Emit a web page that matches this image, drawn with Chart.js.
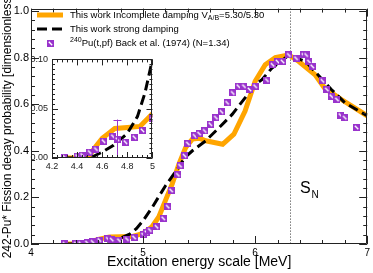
<!DOCTYPE html>
<html><head><meta charset="utf-8">
<script src="https://cdn.jsdelivr.net/npm/chart.js@4.4.0/dist/chart.umd.min.js"></script>
<style>
html,body{margin:0;padding:0;background:#fff;}
#wrap{position:relative;width:373px;height:273px;overflow:hidden;}
#main{position:absolute;left:0;top:0;}
#inset{position:absolute;left:24px;top:50px;}
</style></head><body>
<div id="wrap"><canvas id="main" width="373" height="273"></canvas><canvas id="inset" width="134" height="124"></canvas></div>
<script>
// ---- data ----
const backE = [4.30,4.40,4.44,4.50,4.55,4.61,4.685,4.72,4.785,4.856,4.92,5.00,5.03,5.06,5.12,5.18,5.22,5.25,5.31,5.33,5.37,5.40,5.46,5.50,5.55,5.60,5.65,5.70,5.75,5.80,5.85,5.90,5.95,6.00,6.105,6.155,6.20,6.245,6.30,6.365,6.43,6.455,6.48,6.51,6.60,6.64,6.68,6.73,6.76,6.80,6.905];
const backP = [0.001,0.002,0.003,0.006,0.009,0.017,0.022,0.019,0.016,0.021,0.028,0.040,0.050,0.060,0.074,0.110,0.160,0.230,0.297,0.336,0.379,0.431,0.464,0.474,0.485,0.514,0.542,0.567,0.606,0.648,0.677,0.677,0.663,0.677,0.703,0.769,0.783,0.783,0.811,0.797,0.811,0.811,0.783,0.762,0.700,0.663,0.634,0.620,0.553,0.542,0.500];
const incE = [4.28,4.40,4.50,4.55,4.60,4.65,4.70,4.80,4.90,5.00,5.08,5.14,5.20,5.26,5.32,5.38,5.44,5.50,5.56,5.71,5.81,5.91,6.00,6.09,6.18,6.30,6.39,6.535,6.62,6.77,7.00];
const incP = [0.000,0.000,0.003,0.012,0.020,0.025,0.030,0.031,0.032,0.045,0.074,0.116,0.187,0.258,0.343,0.414,0.450,0.454,0.443,0.428,0.471,0.570,0.698,0.769,0.800,0.811,0.783,0.726,0.669,0.620,0.550];
const strongE = [4.28,4.50,4.60,4.69,4.80,4.88,4.94,5.00,5.085,5.20,5.32,5.37,5.44,5.56,5.68,5.795,5.91,6.00,6.06,6.15,6.30,6.45,6.56,6.68,6.80,7.00];
const strongP = [0.000,0.000,0.006,0.013,0.025,0.042,0.066,0.100,0.160,0.250,0.330,0.370,0.400,0.443,0.500,0.556,0.627,0.684,0.705,0.755,0.810,0.783,0.726,0.663,0.606,0.550];
const errE = [4.72];
const errLow = [0.0];
const errHigh = [0.039];
const snEnergy = 6.31;
const mainXTicks = [4,5,6,7];
const mainXLabels = ['4','5','6','7'];
const mainYTicks = [0,0.2,0.4,0.6,0.8,1.0];
const mainYLabels = ['0.0','0.2','0.4','0.6','0.8','1.0'];
const insetXTicks = [4.2,4.4,4.6,4.8,5.0];
const insetXLabels = ['4.2','4.4','4.6','4.8','5'];
const insetYTicks = [0,0.05,0.10];
const insetYLabels = ['0.00','0.05','0.10'];
const legendLabels = ['This work Incomplete damping V', 'This work strong damping', 'Pu(t,pf) Back et al. (1974) (N=1.34)'];

// ---- style ----
const FONT = "'Liberation Sans', Arial, Helvetica, sans-serif";
const PURPLE = '#9933CC';
const ORANGE = '#FFA500';
Chart.defaults.font.family = FONT;

function pts(xs, ys){ return xs.map((x,i)=>({x:x, y:ys[i]})); }

function makeMarker(){
  const c = document.createElement('canvas'); c.width = 7; c.height = 7;
  const g = c.getContext('2d');
  g.fillStyle = PURPLE; g.fillRect(0,0,7,7);
  g.strokeStyle = '#fff'; g.lineWidth = 1.4;
  g.beginPath(); g.moveTo(1.8,1.8); g.lineTo(5.2,5.2); g.stroke();
  return c;
}
const marker = makeMarker();

function datasets(){
  return [
    {label:'back', data: pts(backE, backP), showLine:false, pointStyle: marker, pointRadius:3.5, order:0},
    {label:'strong', data: pts(strongE, strongP), borderColor:'#000', borderWidth:3, borderDash:[10,5], pointRadius:0, tension:0, showLine:true, order:1},
    {label:'inc', data: pts(incE, incP), borderColor: ORANGE, borderWidth:5, pointRadius:0, tension:0, showLine:true, order:2}
  ];
}

function frameTicks(opts){
  return {
    id:'frameTicks',
    afterDatasetsDraw(chart){
      const ctx = chart.ctx, ca = chart.chartArea, xs = chart.scales.x, ys = chart.scales.y;
      ctx.save();
      ctx.strokeStyle = '#222'; ctx.lineWidth = 1;
      ctx.beginPath();
      ctx.rect(Math.round(ca.left)+0.5, Math.round(ca.top)+0.5, Math.round(ca.right-ca.left)-1, Math.round(ca.bottom-ca.top)-1);
      ctx.stroke();
      ctx.beginPath();
      const eps = 1e-9;
      for (let v = xs.min; v <= xs.max + eps; v += opts.xMinor){
        const major = opts.xMajor.some(m => Math.abs(m - v) < 1e-6);
        const L = major ? opts.majLen : opts.minLen;
        const p = Math.round(xs.getPixelForValue(v)) + 0.5;
        ctx.moveTo(p, ca.bottom); ctx.lineTo(p, ca.bottom - L);
        ctx.moveTo(p, ca.top); ctx.lineTo(p, ca.top + L);
      }
      for (let v = ys.min; v <= ys.max + eps; v += opts.yMinor){
        const major = opts.yMajor.some(m => Math.abs(m - v) < 1e-6);
        const L = major ? opts.majLen : opts.minLen;
        const p = Math.round(ys.getPixelForValue(v)) + 0.5;
        ctx.moveTo(ca.left, p); ctx.lineTo(ca.left + L, p);
        ctx.moveTo(ca.right, p); ctx.lineTo(ca.right - L, p);
      }
      ctx.stroke();
      ctx.restore();
    }
  };
}

const mainExtras = {
  id:'mainExtras',
  beforeDatasetsDraw(chart){
    const ctx = chart.ctx, ca = chart.chartArea, xs = chart.scales.x;
    const px = Math.round(xs.getPixelForValue(snEnergy)) + 0.5;
    ctx.save();
    ctx.strokeStyle = '#333'; ctx.lineWidth = 1; ctx.setLineDash([1,2]);
    ctx.beginPath(); ctx.moveTo(px, ca.top); ctx.lineTo(px, ca.bottom); ctx.stroke();
    ctx.restore();
  },
  afterDraw(chart){
    const ctx = chart.ctx;
    ctx.save();
    // S_N label
    ctx.fillStyle = '#000';
    ctx.textBaseline = 'alphabetic'; ctx.textAlign = 'left';
    ctx.font = '16px ' + FONT; ctx.fillText('S', 300, 193);
    ctx.font = '10px ' + FONT; ctx.fillText('N', 311.5, 197.5);
    // legend
    ctx.lineCap = 'butt';
    ctx.strokeStyle = ORANGE; ctx.lineWidth = 5;
    ctx.beginPath(); ctx.moveTo(37, 15); ctx.lineTo(63, 15); ctx.stroke();
    ctx.strokeStyle = '#000'; ctx.lineWidth = 3; ctx.setLineDash([10,5]);
    ctx.beginPath(); ctx.moveTo(37, 29); ctx.lineTo(63, 29); ctx.stroke();
    ctx.setLineDash([]);
    ctx.drawImage(marker, 47, 40);
    ctx.fillStyle = '#000';
    const F = '9.5px ' + FONT, FS = '7px ' + FONT;
    ctx.font = F; ctx.textBaseline = 'middle';
    let x = 70;
    ctx.fillText(legendLabels[0], x, 15);
    x += ctx.measureText(legendLabels[0]).width;
    ctx.font = FS; ctx.fillText('A/B', x, 18);
    x += ctx.measureText('A/B').width;
    ctx.font = F; ctx.fillText('=5.30/5.30', x, 15);
    ctx.fillText(legendLabels[1], 70, 29);
    ctx.font = FS; ctx.fillText('240', 70, 40);
    const w = ctx.measureText('240').width;
    ctx.font = F; ctx.fillText(legendLabels[2], 70 + w, 43);
    ctx.restore();
  }
};

new Chart(document.getElementById('main'), {
  type:'scatter',
  data:{datasets: datasets()},
  options:{
    responsive:false, animation:false, devicePixelRatio:1,
    layout:{padding:{top:7, right:3, left:0, bottom:0}},
    plugins:{legend:{display:false}, tooltip:{enabled:false}},
    scales:{
      x:{type:'linear', min:4, max:7,
        afterFit(s){ s.height = 29; },
        afterBuildTicks(s){ s.ticks = mainXTicks.map(v=>({value:v})); },
        grid:{display:false, drawTicks:false}, border:{display:false},
        ticks:{font:{size:10}, color:'#000', padding:3, maxRotation:0, autoSkip:false,
          callback:(v,i)=>mainXLabels[i]},
        title:{display:true, text:'Excitation energy scale [MeV]', font:{size:14}, color:'#000', padding:{top:0,bottom:2}}
      },
      y:{type:'linear', min:0, max:1.01,
        afterFit(s){ s.width = 31; },
        afterBuildTicks(s){ s.ticks = mainYTicks.map(v=>({value:v})); },
        grid:{display:false, drawTicks:false}, border:{display:false},
        ticks:{font:{size:11}, color:'#000', padding:2, autoSkip:false,
          callback:(v,i)=>mainYLabels[i]},
        title:{display:true, text:'242-Pu* Fission decay probability [dimensionless]', font:{size:12}, color:'#000', padding:{top:0,bottom:0}}
      }
    }
  },
  plugins:[mainExtras, frameTicks({xMajor:mainXTicks, yMajor:mainYTicks, xMinor:0.2, yMinor:0.04, majLen:8, minLen:4})]
});

const errorBars = {
  id:'errorBars',
  afterDatasetsDraw(chart){
    const ctx = chart.ctx, xs = chart.scales.x, ys = chart.scales.y;
    ctx.save();
    ctx.strokeStyle = PURPLE; ctx.lineWidth = 1;
    ctx.beginPath();
    errE.forEach((e,i)=>{
      const px = Math.round(xs.getPixelForValue(e)) + 0.5;
      const y0 = ys.getPixelForValue(errLow[i]), y1 = ys.getPixelForValue(errHigh[i]);
      ctx.moveTo(px, y0); ctx.lineTo(px, y1);
      ctx.moveTo(px-4, Math.round(y1)+0.5); ctx.lineTo(px+4, Math.round(y1)+0.5);
    });
    ctx.stroke();
    ctx.restore();
  }
};

new Chart(document.getElementById('inset'), {
  type:'scatter',
  data:{datasets: datasets()},
  options:{
    responsive:false, animation:false, devicePixelRatio:1,
    layout:{padding:{top:8, right:5, left:0, bottom:0}},
    plugins:{legend:{display:false}, tooltip:{enabled:false}},
    scales:{
      x:{type:'linear', min:4.2, max:5.0,
        afterFit(s){ s.height = 16; },
        afterBuildTicks(s){ s.ticks = insetXTicks.map(v=>({value:v})); },
        grid:{display:false, drawTicks:false}, border:{display:false},
        ticks:{font:{size:9}, color:'#222', padding:3, maxRotation:0, autoSkip:false,
          callback:(v,i)=>insetXLabels[i]}
      },
      y:{type:'linear', min:0, max:0.10,
        afterFit(s){ s.width = 28; },
        afterBuildTicks(s){ s.ticks = insetYTicks.map(v=>({value:v})); },
        grid:{display:false, drawTicks:false}, border:{display:false},
        ticks:{font:{size:9}, color:'#222', padding:4, autoSkip:false,
          callback:(v,i)=>insetYLabels[i]}
      }
    }
  },
  plugins:[errorBars, frameTicks({xMajor:insetXTicks, yMajor:insetYTicks, xMinor:0.04, yMinor:0.005, majLen:6, minLen:3})]
});
</script>
</body></html>
